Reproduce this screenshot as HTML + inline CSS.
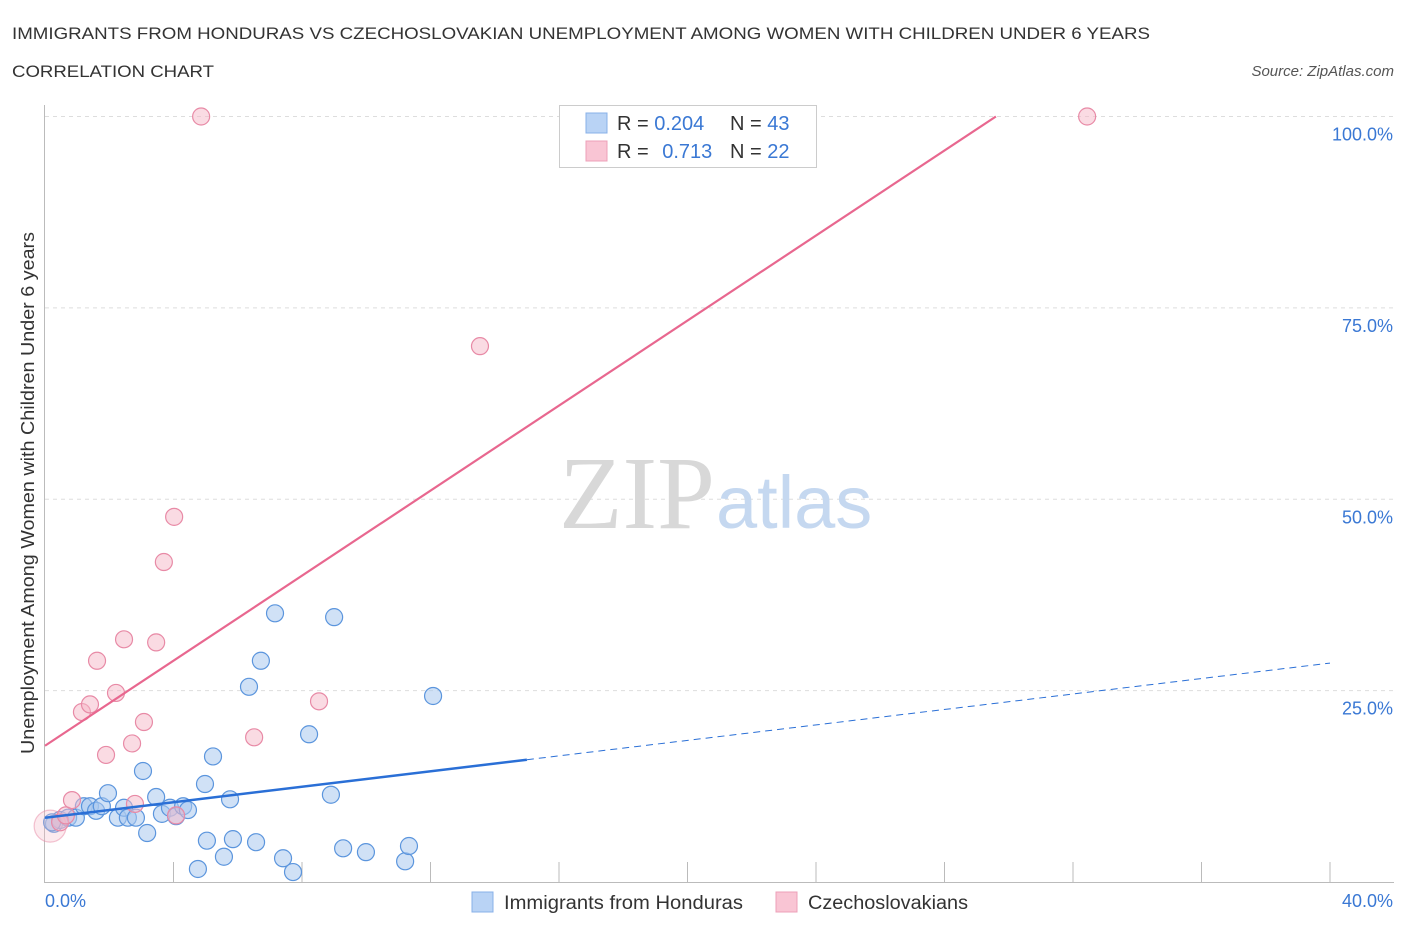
<!DOCTYPE html>
<html><head><meta charset="utf-8"><style>
body{margin:0;background:#fff;font-family:"Liberation Sans",sans-serif;}
svg text{font-family:"Liberation Sans",sans-serif;}
</style></head><body>
<svg id="chart" width="1406" height="930">
<text x="12" y="39" font-size="17" fill="#333" textLength="1138" lengthAdjust="spacingAndGlyphs">IMMIGRANTS FROM HONDURAS VS CZECHOSLOVAKIAN UNEMPLOYMENT AMONG WOMEN WITH CHILDREN UNDER 6 YEARS</text>
<text x="12" y="77" font-size="17" fill="#333" textLength="202" lengthAdjust="spacingAndGlyphs">CORRELATION CHART</text>
<text x="1394" y="76" font-size="15" fill="#555" font-style="italic" text-anchor="end">Source: ZipAtlas.com</text>
<g id="grid"></g>
<text x="715" y="528" font-size="104" fill="#d8d8d8" text-anchor="end" style="font-family:'Liberation Serif',serif">ZIP</text>
<text x="716" y="528" font-size="74" fill="#c5d8f0">atlas</text>
<g id="marks"></g>
<text transform="translate(34,493) rotate(-90)" font-size="18" fill="#333" text-anchor="middle" textLength="522" lengthAdjust="spacingAndGlyphs">Unemployment Among Women with Children Under 6 years</text>
<text x="45" y="907" font-size="18" fill="#3a78d4">0.0%</text>
<text x="1393" y="907" font-size="18" fill="#3a78d4" text-anchor="end">40.0%</text>
<g>
<rect x="559.5" y="105.5" width="257" height="62" fill="#fff" stroke="#ccc"/>
<rect x="586" y="113" width="21" height="20" fill="#b9d3f5" stroke="#88b0e8"/>
<rect x="586" y="141" width="21" height="20" fill="#f9c5d4" stroke="#eda0b8"/>
<text x="617" y="130" font-size="20" fill="#333">R = <tspan fill="#3a78d4">0.204</tspan></text>
<text x="730" y="130" font-size="20" fill="#333">N = <tspan fill="#3a78d4">43</tspan></text>
<text x="617" y="158" font-size="20" fill="#333">R = <tspan fill="#3a78d4" dx="8">0.713</tspan></text>
<text x="730" y="158" font-size="20" fill="#333">N = <tspan fill="#3a78d4">22</tspan></text>
</g>
<g>
<rect x="472" y="892" width="21" height="20" fill="#b9d3f5" stroke="#88b0e8"/>
<text x="504" y="909" font-size="19" fill="#333" textLength="239" lengthAdjust="spacingAndGlyphs">Immigrants from Honduras</text>
<rect x="776" y="892" width="21" height="20" fill="#f9c5d4" stroke="#eda0b8"/>
<text x="808" y="909" font-size="19" fill="#333" textLength="160" lengthAdjust="spacingAndGlyphs">Czechoslovakians</text>
</g>
</svg>
<script>
const yTicks=[25,50,75,100];
const yTickLabels=["25.0%","50.0%","75.0%","100.0%"];
const xTicks=[0,4,8,12,16,20,24,28,32,36,40];
const blueX=[0.28,0.47,0.72,0.96,1.21,1.40,1.59,1.77,1.96,2.27,2.46,2.58,2.83,3.05,3.18,3.46,3.64,3.89,4.08,4.30,4.45,4.76,4.98,5.04,5.23,5.57,5.76,5.85,6.35,6.57,6.72,7.16,7.41,7.72,8.22,8.90,9.00,9.28,9.99,11.21,11.33,12.08,0.22];
const blueY=[7.6,8.1,8.4,8.4,9.9,9.9,9.3,9.9,11.6,8.4,9.7,8.4,8.4,14.5,6.4,11.1,8.9,9.7,8.6,9.9,9.4,1.7,12.8,5.4,16.4,3.3,10.8,5.6,25.5,5.2,28.9,35.1,3.1,1.3,19.3,11.4,34.6,4.4,3.9,2.7,4.7,24.3,7.8];
const pinkX=[0.16,0.47,0.65,0.84,1.15,1.40,1.62,1.90,2.21,2.46,2.71,2.80,3.08,3.46,3.70,4.02,4.08,4.86,6.51,8.53,13.54,32.44];
const pinkY=[7.3,7.8,8.7,10.7,22.2,23.2,28.9,16.6,24.7,31.7,18.1,10.2,20.9,31.3,41.8,47.7,8.7,100,18.9,23.6,70,100];
const blueLine=[8.4,28.6];
const blueSolidEnd=15;
const pinkLine=[17.8,100];
const pinkLineEndX=29.6;
const NS="http://www.w3.org/2000/svg";
const sx=v=>45+v*32.125, sy=v=>882-v*7.655;
function mk(tag,attrs,parent){const e=document.createElementNS(NS,tag);for(const k in attrs)e.setAttribute(k,attrs[k]);parent.appendChild(e);return e;}
const grid=document.getElementById('grid'), marks=document.getElementById('marks');
yTicks.forEach((t,i)=>{
 const l=mk('line',{x1:45,x2:1394,y1:sy(t),y2:sy(t),stroke:'#ddd','stroke-dasharray':'4,4'},grid);
 
 
 const tx=mk('text',{x:1393,y:sy(t)+24,'font-size':18,fill:'#3a78d4','text-anchor':'end'},grid);
 tx.textContent=yTickLabels[i];
 
 
});
const ax=mk('line',{x1:44.5,x2:44.5,y1:105,y2:882,stroke:'#bbb'},grid);


const bx=mk('line',{x1:44,x2:1394,y1:882.5,y2:882.5,stroke:'#bbb'},grid);


xTicks.forEach(t=>{if(t===0)return;
 const l=mk('line',{x1:sx(t),x2:sx(t),y1:862,y2:882,stroke:'#bbb'},grid);
 
 
});
blueX.forEach((x,i)=>{
 const c=mk('circle',{cx:sx(x),cy:sy(blueY[i]),r:8.5,fill:'#a9c8ee','fill-opacity':0.55,stroke:'#5b95dd','stroke-width':1.2},marks);
 
 
});
pinkX.forEach((x,i)=>{
 const big=i===0;
 const c=mk('circle',{cx:sx(x),cy:sy(pinkY[i]),r:big?16:8.5,fill:'#f5b8c8','fill-opacity':big?0.3:0.5,stroke:'#e88aa6','stroke-opacity':big?0.5:1,'stroke-width':1.2},marks);
 
 
});
const bAt=x=>blueLine[0]+(blueLine[1]-blueLine[0])*x/40;
const b1=mk('line',{x1:sx(0),y1:sy(bAt(0)),x2:sx(blueSolidEnd),y2:sy(bAt(blueSolidEnd)),stroke:'#2a6fd6','stroke-width':2.5},marks);


const b2=mk('line',{x1:sx(blueSolidEnd),y1:sy(bAt(blueSolidEnd)),x2:sx(40),y2:sy(bAt(40)),stroke:'#2a6fd6','stroke-width':1,'stroke-dasharray':'7,5'},marks);


const p1=mk('line',{x1:sx(0),y1:sy(pinkLine[0]),x2:sx(pinkLineEndX),y2:sy(pinkLine[1]),stroke:'#e8678f','stroke-width':2.2},marks);


</script>
</body></html>
